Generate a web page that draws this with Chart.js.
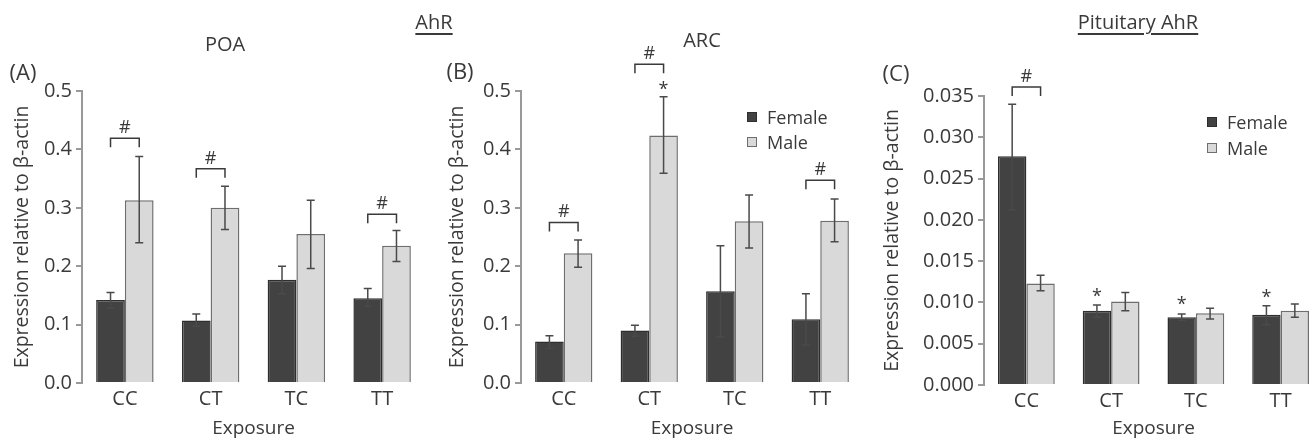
<!DOCTYPE html>
<html><head><meta charset="utf-8">
<script src="https://cdn.jsdelivr.net/npm/chart.js@4.4.0/dist/chart.umd.min.js"></script>
<style>
html,body{margin:0;padding:0;background:#fff;width:1312px;height:440px;overflow:hidden;position:relative;font-family:'Open Sans',sans-serif;color:#3a3a3a}
.box{position:absolute;top:0;height:440px}
.t{position:absolute;white-space:nowrap;line-height:1;transform:translate(-50%,-50%)}
.l{position:absolute;white-space:nowrap;line-height:1;transform:translate(0,-50%);font-size:18px}
.u{text-decoration:underline;text-decoration-thickness:2px;text-underline-offset:4px}
.sq{position:absolute;width:8px;height:8px}
</style></head>
<body>
<div class="box" style="left:0;width:440px"><canvas id="cA" width="440" height="440"></canvas></div>
<div class="box" style="left:430px;width:440px"><canvas id="cB" width="440" height="440"></canvas></div>
<div class="box" style="left:860px;width:470px"><canvas id="cC" width="470" height="440"></canvas></div>

<div class="t" style="left:23px;top:71px;font-size:22px">(A)</div>
<div class="t" style="left:225px;top:44px;font-size:20px">POA</div>
<div class="t u" style="left:434px;top:22px;font-size:20px">AhR</div>
<div class="t" style="left:702px;top:40px;font-size:20px">ARC</div>
<div class="t" style="left:460px;top:70px;font-size:22px">(B)</div>
<div class="t u" style="left:1138px;top:22px;font-size:20px">Pituitary AhR</div>
<div class="t" style="left:896px;top:72px;font-size:22px">(C)</div>

<div class="sq" style="left:747px;top:112px;background:#424242;border:1px solid #2e2e2e"></div>
<div class="l" style="left:767px;top:117px">Female</div>
<div class="sq" style="left:747px;top:137px;background:#d9d9d9;border:1px solid #6e6e6e"></div>
<div class="l" style="left:767px;top:142px">Male</div>
<div class="sq" style="left:1207px;top:117px;background:#424242;border:1px solid #2e2e2e"></div>
<div class="l" style="left:1227px;top:122px">Female</div>
<div class="sq" style="left:1207px;top:143px;background:#d9d9d9;border:1px solid #6e6e6e"></div>
<div class="l" style="left:1227px;top:148px">Male</div>

<script>
const categories = ['CC', 'CT', 'TC', 'TT'];
const seriesNames = ['Female', 'Male'];

// (A) POA
const poaFemale   = [0.142, 0.107, 0.177, 0.145];
const poaFemaleHi = [0.155, 0.118, 0.200, 0.162];
const poaFemaleLo = [0.128, 0.097, 0.153, 0.131];
const poaMale     = [0.313, 0.300, 0.255, 0.235];
const poaMaleHi   = [0.388, 0.337, 0.313, 0.261];
const poaMaleLo   = [0.240, 0.263, 0.196, 0.208];

// (B) ARC
const arcFemale   = [0.071, 0.090, 0.157, 0.109];
const arcFemaleHi = [0.081, 0.099, 0.235, 0.153];
const arcFemaleLo = [0.059, 0.080, 0.079, 0.065];
const arcMale     = [0.222, 0.424, 0.277, 0.278];
const arcMaleHi   = [0.245, 0.490, 0.322, 0.315];
const arcMaleLo   = [0.198, 0.359, 0.231, 0.242];

// (C) Pituitary
const pitFemale   = [0.0277, 0.0090, 0.0082, 0.0085];
const pitFemaleHi = [0.0340, 0.0097, 0.0086, 0.0096];
const pitFemaleLo = [0.0212, 0.0082, 0.0078, 0.0073];
const pitMale     = [0.0123, 0.0101, 0.0087, 0.0090];
const pitMaleHi   = [0.0133, 0.0112, 0.0093, 0.0098];
const pitMaleLo   = [0.0114, 0.0090, 0.0080, 0.0082];

// y ticks
const ticksAB = ['0.0', '0.1', '0.2', '0.3', '0.4', '0.5'];
const ticksC  = ['0.000', '0.005', '0.010', '0.015', '0.020', '0.025', '0.030', '0.035'];

// significance annotations (value = y position in data units)
const poaBrackets = [{cat: 0, y: 0.419}, {cat: 1, y: 0.367}, {cat: 3, y: 0.289}];
const poaStars = [];
const arcBrackets = [{cat: 0, y: 0.275}, {cat: 1, y: 0.546}, {cat: 3, y: 0.347}];
const arcStars = [{cat: 1, ds: 1, y: 0.51}];
const pitBrackets = [{cat: 0, y: 0.0361}];
const pitStars = [{cat: 1, ds: 0, y: 0.0113}, {cat: 2, ds: 0, y: 0.0103}, {cat: 3, ds: 0, y: 0.0112}];

const F = "'Open Sans', sans-serif";
const TXT = '#3a3a3a';
const AX = '#999999';

const annotPlugin = {
  id: 'annot',
  afterDatasetsDraw(chart) {
    const o = chart.options.plugins.annot;
    const {ctx} = chart;
    const y = chart.scales.y;
    ctx.save();
    ctx.strokeStyle = '#4a4a4a';
    ctx.lineWidth = 1.5;
    // error bars
    chart.data.datasets.forEach((ds, di) => {
      chart.getDatasetMeta(di).data.forEach((bar, i) => {
        const xc = bar.x;
        const yh = y.getPixelForValue(ds.errHi[i]);
        const yl = y.getPixelForValue(ds.errLo[i]);
        ctx.beginPath();
        ctx.moveTo(xc, yh); ctx.lineTo(xc, yl);
        ctx.moveTo(xc - 4, yh); ctx.lineTo(xc + 4, yh);
        ctx.moveTo(xc - 4, yl); ctx.lineTo(xc + 4, yl);
        ctx.stroke();
      });
    });
    ctx.fillStyle = TXT;
    ctx.textAlign = 'center';
    ctx.textBaseline = 'alphabetic';
    ctx.font = "18px " + F;
    ctx.strokeStyle = '#3a3a3a';
    o.brackets.forEach(b => {
      const x0 = chart.getDatasetMeta(0).data[b.cat].x;
      const x1 = chart.getDatasetMeta(1).data[b.cat].x;
      const yy = y.getPixelForValue(b.y);
      ctx.beginPath();
      ctx.moveTo(x0, yy + 9); ctx.lineTo(x0, yy); ctx.lineTo(x1, yy); ctx.lineTo(x1, yy + 9);
      ctx.stroke();
      ctx.fillText('#', (x0 + x1) / 2, yy - 5);
    });
    ctx.font = "18px " + F;
    o.stars.forEach(s => {
      const xc = chart.getDatasetMeta(s.ds).data[s.cat].x;
      const yy = y.getPixelForValue(s.y);
      ctx.fillText('*', xc, yy + 10);
    });
    ctx.restore();
  }
};

function makeChart(id, fem, femHi, femLo, mal, malHi, malLo, tickLabels, cfg) {
  const step = cfg.max / (tickLabels.length - 1);
  new Chart(document.getElementById(id), {
    type: 'bar',
    data: {
      labels: categories,
      datasets: [
        {label: seriesNames[0], data: fem, errHi: femHi, errLo: femLo,
         backgroundColor: '#424242', borderColor: '#2e2e2e', borderWidth: 1.5,
         categoryPercentage: 0.67, barPercentage: 1.0},
        {label: seriesNames[1], data: mal, errHi: malHi, errLo: malLo,
         backgroundColor: '#d9d9d9', borderColor: '#6e6e6e', borderWidth: 1.5,
         categoryPercentage: 0.67, barPercentage: 1.0}
      ]
    },
    options: {
      responsive: false,
      animation: false,
      layout: {padding: {top: cfg.top, right: cfg.right, left: 0, bottom: 0}},
      plugins: {
        legend: {display: false},
        tooltip: {enabled: false},
        annot: {brackets: cfg.brackets, stars: cfg.stars}
      },
      scales: {
        x: {
          grid: {display: false, drawTicks: false, tickLength: 0},
          border: {display: false},
          ticks: {color: TXT, font: {family: F, size: 20}, padding: 4},
          title: {display: true, text: 'Exposure', color: TXT, font: {family: F, size: 19}, padding: {top: 0, bottom: 0}},
          afterFit: s => { s.height = cfg.xh; }
        },
        y: {
          min: 0, max: cfg.max,
          ticks: {stepSize: step, color: TXT, font: {family: F, size: 20}, padding: 4,
                  callback: (v, i) => tickLabels[i]},
          grid: {display: true, drawOnChartArea: false, drawTicks: true, tickLength: 6, color: AX, lineWidth: 2},
          border: {display: true, color: AX, width: 2},
          title: {display: true, text: 'Expression relative to β-actin', color: TXT, font: {family: F, size: 19.5}, padding: {top: cfg.tpad, bottom: 0}},
          afterFit: s => { s.width = cfg.yw; }
        }
      }
    },
    plugins: [annotPlugin]
  });
}

makeChart('cA', poaFemale, poaFemaleHi, poaFemaleLo, poaMale, poaMaleHi, poaMaleLo, ticksAB,
  {max: 0.5, top: 91, right: 15, xh: 57, yw: 82, tpad: 11, brackets: poaBrackets, stars: poaStars});
makeChart('cB', arcFemale, arcFemaleHi, arcFemaleLo, arcMale, arcMaleHi, arcMaleLo, ticksAB,
  {max: 0.5, top: 91, right: 7, xh: 57, yw: 91, tpad: 16, brackets: arcBrackets, stars: arcStars});
makeChart('cC', pitFemale, pitFemaleHi, pitFemaleLo, pitMale, pitMaleHi, pitMaleLo, ticksC,
  {max: 0.035, top: 96, right: 7, xh: 55, yw: 124, tpad: 21, brackets: pitBrackets, stars: pitStars});
</script>
</body></html>
